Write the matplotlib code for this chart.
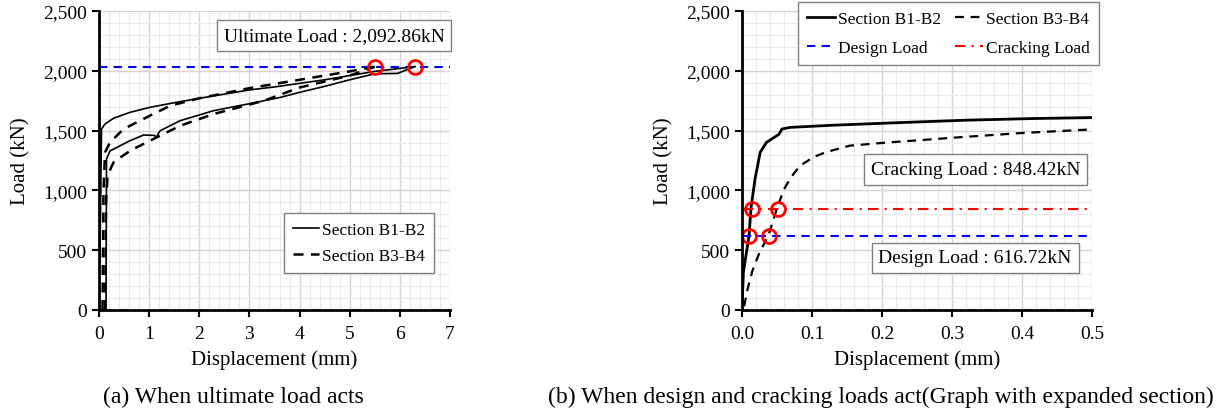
import matplotlib
matplotlib.use("Agg")
import matplotlib.pyplot as plt
from matplotlib.ticker import MultipleLocator, FuncFormatter

plt.rcParams['font.family'] = ['Liberation Serif', 'DejaVu Serif']

# (a) full range - two gauges per section
b12_upper_x = [0, 0.03, 0.05, 0.12, 0.29, 0.62, 1.02, 1.55, 2.0, 2.5, 3.0, 3.5, 4.0, 4.5, 5.0, 5.5, 6.0, 6.3]
b12_upper_y = [0, 800, 1513, 1555, 1603, 1653, 1695, 1737, 1770, 1805, 1840, 1865, 1895, 1925, 1960, 1995, 2020, 2035]
b12_lower_x = [0.14, 0.15, 0.22, 0.62, 0.89, 1.1, 1.15, 1.18, 1.22, 1.62, 2.29, 3.0, 3.62, 4.0, 4.5, 5.0, 5.5, 5.95, 6.3]
b12_lower_y = [0, 1263, 1330, 1416, 1463, 1460, 1445, 1475, 1499, 1583, 1667, 1725, 1778, 1820, 1870, 1925, 1975, 1978, 2035]
b34_upper_x = [0.07, 0.09, 0.12, 0.22, 0.49, 0.95, 1.42, 2.0, 3.0, 4.0, 4.5, 5.0, 5.5]
b34_upper_y = [0, 1000, 1318, 1402, 1513, 1611, 1708, 1770, 1855, 1925, 1960, 1995, 2035]
b34_lower_x = [0.12, 0.14, 0.17, 0.29, 0.62, 1.02, 1.62, 2.29, 3.29, 4.0, 4.5, 5.0, 5.5]
b34_lower_y = [0, 900, 1123, 1235, 1332, 1416, 1541, 1639, 1750, 1860, 1910, 1960, 2035]
ultimate_line = 2035
ultimate_pts_x = [5.5, 6.3]

# (b) expanded section
b12_x = [0, 0.002, 0.01, 0.013, 0.0186, 0.026, 0.035, 0.0496, 0.052, 0.054, 0.057, 0.069, 0.13, 0.226, 0.32, 0.417, 0.5]
b12_y = [8, 315, 621, 859, 1095, 1318, 1402, 1457, 1465, 1480, 1513, 1527, 1545, 1567, 1587, 1601, 1609]
b34_x = [0.003, 0.008, 0.015, 0.025, 0.0376, 0.0505, 0.06, 0.07, 0.083, 0.1, 0.107, 0.12, 0.154, 0.211, 0.25, 0.3, 0.35, 0.4, 0.45, 0.5]
b34_y = [30, 175, 330, 480, 621, 859, 1010, 1110, 1207, 1270, 1290, 1320, 1374, 1402, 1418, 1440, 1460, 1480, 1495, 1510]
design_load = 617
cracking_load = 848
design_pts_x = [0.0095, 0.039]
cracking_pts_x = [0.0143, 0.051]

W, H = 1223, 414
fig = plt.figure(figsize=(W / 100, H / 100), dpi=100)
ax1 = fig.add_axes([99 / W, 103 / H, 351 / W, 299 / H])
ax2 = fig.add_axes([742 / W, 103 / H, 350 / W, 299 / H])

thousands = FuncFormatter(lambda v, p: f"{int(v):,}")


def style_axes(ax):
    ax.set_ylim(0, 2500)
    ax.yaxis.set_major_locator(MultipleLocator(500))
    ax.yaxis.set_minor_locator(MultipleLocator(100))
    ax.yaxis.set_major_formatter(thousands)
    ax.grid(which='major', color='#d4d4d4', lw=1.0)
    ax.grid(which='minor', color='#ececec', lw=0.8)
    ax.set_axisbelow(True)
    for s in ['top', 'right']:
        ax.spines[s].set_visible(False)
    for s in ['left', 'bottom']:
        ax.spines[s].set_linewidth(2)
    ax.tick_params(which='major', direction='out', length=5, width=1.5, labelsize=14)
    ax.tick_params(axis='x', which='major', pad=6)
    ax.tick_params(which='minor', length=0)
    ax.set_xlabel("Displacement (mm)", fontsize=15, labelpad=5)
    ax.set_ylabel("Load (kN)", fontsize=15, labelpad=9)


box = dict(boxstyle='square,pad=0.35', fc='white', ec='#808080', lw=1)

# (a)
style_axes(ax1)
ax1.set_xlim(0, 7)
ax1.xaxis.set_major_locator(MultipleLocator(1))
ax1.xaxis.set_minor_locator(MultipleLocator(0.2))
ax1.axhline(ultimate_line, color='#0000ff', ls=(0, (4, 3)), lw=1.5)
ax1.plot(b12_upper_x, b12_upper_y, color='black', lw=1.2, label='Section B1-B2')
ax1.plot(b12_lower_x, b12_lower_y, color='black', lw=1.2)
ax1.plot(b34_upper_x, b34_upper_y, color='black', lw=1.8, ls=(0, (4, 3)), label='Section B3-B4')
ax1.plot(b34_lower_x, b34_lower_y, color='black', lw=1.8, ls=(0, (4, 3)))
ax1.plot(ultimate_pts_x, [ultimate_line] * 2, 'o', ms=10, mfc='none', mec='#ff0000', mew=2)
ax1.text(0.67, 0.918, "Ultimate Load : 2,092.86kN", transform=ax1.transAxes,
         ha='center', va='center', fontsize=14, bbox=box)
leg1 = ax1.legend(loc='lower right', bbox_to_anchor=(0.954, 0.124), fontsize=12.5,
                  fancybox=False, edgecolor='#808080', framealpha=1, borderaxespad=0,
                  handlelength=1.5, handletextpad=0.2, labelspacing=0.6, borderpad=0.5)
leg1.get_frame().set_linewidth(1)

# (b)
style_axes(ax2)
ax2.set_xlim(0, 0.5)
ax2.xaxis.set_major_locator(MultipleLocator(0.1))
ax2.xaxis.set_minor_locator(MultipleLocator(0.02))
ax2.xaxis.set_major_formatter(FuncFormatter(lambda v, p: f"{v:.1f}"))
h1, = ax2.plot(b12_x, b12_y, color='black', lw=2, label='Section B1-B2')
h2, = ax2.plot(b34_x, b34_y, color='black', lw=1.6, ls=(0, (4, 3)), label='Section B3-B4')
h3 = ax2.axhline(design_load, xmin=0.004, color='#0000ff', ls=(0, (4, 3)), lw=1.5, label='Design Load')
h4 = ax2.axhline(cracking_load, xmin=0.004, color='#ff0000', ls=(0, (5, 3, 1, 3)), lw=1.5, label='Cracking Load')
ax2.plot(design_pts_x, [design_load] * 2, 'o', ms=10, mfc='none', mec='#ff0000', mew=2)
ax2.plot(cracking_pts_x, [cracking_load] * 2, 'o', ms=10, mfc='none', mec='#ff0000', mew=2)
ax2.text(0.667, 0.47, "Cracking Load : 848.42kN", transform=ax2.transAxes,
         ha='center', va='center', fontsize=14, bbox=box)
ax2.text(0.666, 0.174, "Design Load : 616.72kN", transform=ax2.transAxes,
         ha='center', va='center', fontsize=14, bbox=box)
leg2 = ax2.legend(handles=[h1, h3, h2, h4], loc='upper right', bbox_to_anchor=(1.02, 1.03),
                  ncol=2, fontsize=12.5, fancybox=False, edgecolor='#808080', framealpha=1,
                  borderaxespad=0, handlelength=1.6, handletextpad=0.2, labelspacing=0.75,
                  columnspacing=0.8, borderpad=0.5)
leg2.get_frame().set_linewidth(1)

fig.text(233 / W, 1 - 397 / H, "(a) When ultimate load acts", ha='center', va='center', fontsize=17)
fig.text(881 / W, 1 - 397 / H, "(b) When design and cracking loads act(Graph with expanded section)",
         ha='center', va='center', fontsize=17)

fig.savefig("out.png", dpi=100)
